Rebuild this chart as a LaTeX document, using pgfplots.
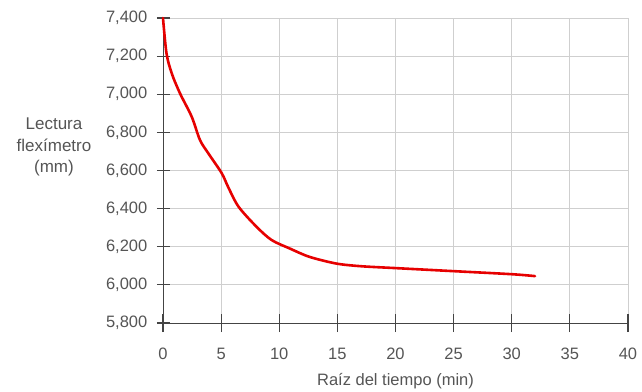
\documentclass[border=0pt]{standalone}
\usepackage{pgfplots}
\pgfplotsset{compat=1.18}
\usepackage{fontspec}
\setmainfont{Liberation Sans}
\definecolor{txt}{HTML}{555555}
\definecolor{gridc}{HTML}{CFCFCF}
\definecolor{axc}{HTML}{444444}
\definecolor{curve}{HTML}{E60000}
\begin{document}
\begin{tikzpicture}
\begin{axis}[
  scale only axis,
  width=465pt, height=305pt,
  xmin=0, xmax=40, ymin=5800, ymax=7400,
  xtick={0,5,...,40},
  ytick={5800,6000,...,7400},
  axis x line=bottom, axis y line=left,
  axis line style={draw=axc, line width=0.9pt, -},
  grid=major,
  major grid style={draw=gridc, line width=0.8pt},
  tick align=center,
  xtick style={draw=none, /pgfplots/major tick length=17pt},
  ytick style={draw=none, /pgfplots/major tick length=13pt},
  xticklabel style={font=\fontsize{16.5}{19}\selectfont, text=txt, yshift=-19pt},
  yticklabel style={font=\fontsize{16.5}{19}\selectfont, text=txt, xshift=-10pt},
  /pgf/number format/.cd, fixed, 1000 sep={,}, assume math mode=true,
  /pgfplots/.cd,
  xlabel={Raíz del tiempo (min)},
  xlabel style={font=\fontsize{16.5}{19}\selectfont, text=txt, yshift=-7pt},
  clip=false,
]
% tick marks
\pgfplotsinvokeforeach{0,5,10,...,40}{
  \draw[axc, line width=1.2pt] ([yshift=-9pt]axis cs:#1,5800) -- ([yshift=9pt]axis cs:#1,5800);
}
\pgfplotsinvokeforeach{5800,6000,...,7400}{
  \draw[axc, line width=1.2pt] ([xshift=-6pt]axis cs:0,#1) -- ([xshift=7pt]axis cs:0,#1);
}
\addplot[curve, line width=2.6pt, line join=round, line cap=round, smooth] coordinates {
(0,7400) (0.3,7215) (0.75,7110) (1.46,7005) (2.47,6882) (3.18,6760)
(3.9,6690) (5.05,6586) (5.6,6514) (6.5,6410) (8.06,6304) (9.35,6235)
(10.9,6191) (12.6,6147) (14.9,6112) (17,6098) (20,6088) (25,6072)
(30,6056) (32,6046)
};
\node[font=\fontsize{17}{21.5}\selectfont, text=txt, align=center]
  at (rel axis cs:0,0.577) [xshift=-109pt] {Lectura\\flexímetro\\(mm)};
\coordinate (O) at (rel axis cs:0,0);
\end{axis}
\pgfresetboundingbox
\path (O) ++(-163pt,-68pt) rectangle ++(642pt,391pt);
\end{tikzpicture}
\end{document}
